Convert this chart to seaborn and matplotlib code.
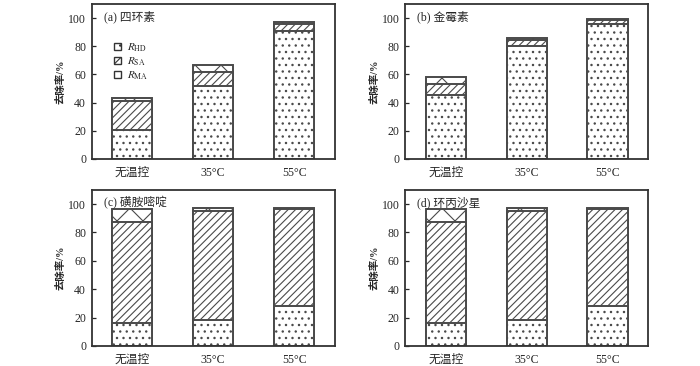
import numpy as np
import pandas as pd
import matplotlib
matplotlib.use("Agg")
import matplotlib.pyplot as plt
from matplotlib.patches import Patch
import seaborn as sns

# render at a higher dpi so the hatch spacing matches the reference
DPI = 156
k = 100 / DPI   # convert "points at 100 dpi" to points at DPI

sns.set_style("ticks")
plt.rcParams['font.family'] = ['Liberation Serif', 'Noto Sans CJK SC']
plt.rcParams['mathtext.fontset'] = 'stix'
plt.rcParams['hatch.linewidth'] = 0.8 * k

# categories
conditions = ["无温控", "35°C", "55°C"]
panel_titles = ["(a) 四环素", "(b) 金霉素", "(c) 磺胺嘧啶", "(d) 环丙沙星"]

# removal contributions (%) per panel: R_HD, R_SA, R_MA
r_hd = [[20.5, 51.5, 90.5],
        [45.5, 80.5, 95.5],
        [16.0, 18.0, 28.0],
        [16.0, 18.0, 28.0]]
r_sa = [[20.5, 10.0, 5.0],
        [7.5, 4.0, 3.0],
        [71.5, 77.5, 68.5],
        [71.5, 77.5, 68.5]]
r_ma = [[2.5, 5.0, 2.0],
        [5.0, 1.5, 1.0],
        [9.0, 2.0, 0.5],
        [9.0, 2.0, 0.5]]

edge = "#4a4a4a"
layers = [("$R_{\\mathrm{HD}}$", "...."), ("$R_{\\mathrm{SA}}$", "///////"), ("$R_{\\mathrm{MA}}$", "xx")]

fig = plt.figure(figsize=(700 / DPI, 366 / DPI), dpi=DPI)
positions = [[0.131, 0.566, 0.347, 0.423],
             [0.579, 0.566, 0.347, 0.423],
             [0.131, 0.055, 0.347, 0.426],
             [0.579, 0.055, 0.347, 0.426]]

for i, pos in enumerate(positions):
    ax = fig.add_axes(pos)
    hd = np.array(r_hd[i])
    sa = np.array(r_sa[i])
    ma = np.array(r_ma[i])
    cums = [hd, hd + sa, hd + sa + ma]
    # draw top layer first, lower layers overlap it
    for (lab, hatch), vals in zip(layers[::-1], cums[::-1]):
        df = pd.DataFrame({"cond": conditions, "val": vals})
        sns.barplot(data=df, x="cond", y="val", ax=ax, color="white",
                    edgecolor=edge, linewidth=1.4 * k, hatch=hatch, width=0.5)
    ax.set_xlim(-0.5, 2.5)
    ax.set_ylim(0, 110)
    ax.set_yticks(range(0, 101, 20))
    ax.set_xlabel("")
    ax.set_ylabel("去除率/%", fontsize=7.5 * k, fontweight="bold", labelpad=2 * k)
    ax.tick_params(axis="y", labelsize=8.5 * k, length=3 * k, width=0.9 * k,
                   direction="in", pad=4 * k)
    ax.tick_params(axis="x", labelsize=8.5 * k, length=0, pad=6 * k)
    for s in ax.spines.values():
        s.set_linewidth(1.3 * k)
        s.set_color("#333333")
    ax.text(0.05, 0.915, panel_titles[i], transform=ax.transAxes,
            fontsize=8.5 * k, va="center", ha="left")
    if i == 0:
        handles = [Patch(facecolor="white", edgecolor="#333333", hatch=h, label=l,
                         linewidth=1.0 * k)
                   for l, h in layers]
        ax.legend(handles=handles, loc="upper left", bbox_to_anchor=(0.06, 0.81),
                  frameon=False, fontsize=8 * k, handlelength=0.6, handleheight=0.6,
                  handletextpad=0.6, labelspacing=0.15, borderpad=0.2)

fig.savefig("out.png", dpi=DPI)
